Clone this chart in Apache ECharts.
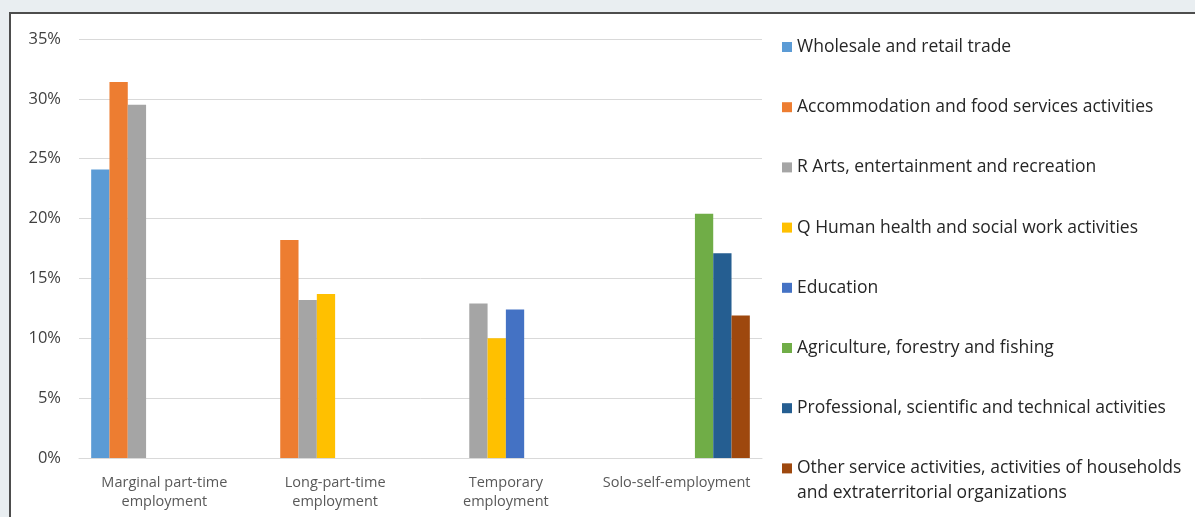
<!DOCTYPE html>
<html>
<head>
<meta charset="utf-8">
<script src="https://cdn.jsdelivr.net/npm/echarts@6/dist/echarts.min.js"></script>
<style>
html,body{margin:0;padding:0;background:#e9eef1;}
#c{width:1195px;height:517px;}
</style>
</head>
<body>
<div id="c"></div>
<script>
const categories = ['Marginal part-time\nemployment', 'Long-part-time\nemployment', 'Temporary\nemployment', 'Solo-self-employment'];
const seriesNames = [
  'Wholesale and retail trade',
  'Accommodation and food services activities',
  'R Arts, entertainment and recreation',
  'Q Human health and social work activities',
  'Education',
  'Agriculture, forestry and fishing',
  'Professional, scientific and technical activities',
  'Other service activities, activities of households and extraterritorial organizations'
];
const wholesale     = [24.1, null, null, null];
const accommodation = [31.4, 18.2, null, null];
const arts          = [29.5, 13.2, 12.9, null];
const health        = [null, 13.7, 10.0, null];
const education     = [null, null, 12.4, null];
const agriculture   = [null, null, null, 20.4];
const professional  = [null, null, null, 17.1];
const otherServices = [null, null, null, 11.9];
const yTicks = [0, 5, 10, 15, 20, 25, 30, 35];
const colors = ['#5B9BD5', '#ED7D31', '#A5A5A5', '#FFC000', '#4472C4', '#70AD47', '#255E91', '#9E480E'];

const seriesData = [wholesale, accommodation, arts, health, education, agriculture, professional, otherServices];
const font = '"Open Sans", "Noto Sans", sans-serif';

const chart = echarts.init(document.getElementById('c'), null, {renderer: 'canvas'});
chart.setOption({
  backgroundColor: '#e9eef1',
  animation: false,
  color: colors,
  graphic: [
    {type: 'rect', z: -10, shape: {x: 10, y: 13, width: 1200, height: 520}, style: {fill: '#ffffff', stroke: '#4d4d4d', lineWidth: 2}},
    {type: 'text', left: 797, top: 484, style: {text: 'and extraterritorial organizations', font: '17.5px ' + font, fill: '#262626'}}
  ],
  grid: {left: 79, right: 433, top: 39, bottom: 59, containLabel: false},
  legend: {
    orient: 'vertical',
    left: 782,
    top: 37,
    padding: 0,
    itemWidth: 10,
    itemHeight: 10,
    itemGap: 40.2,
    icon: 'rect',
    selectedMode: false,
    textStyle: {fontFamily: font, fontSize: 17.5, color: '#262626', lineHeight: 20},
    formatter: function (name) {
      if (name === seriesNames[7]) return 'Other service activities, activities of households';
      return name;
    },
    data: seriesNames
  },
  xAxis: {
    type: 'category',
    data: categories,
    axisLine: {lineStyle: {color: '#d9d9d9', width: 1}},
    axisTick: {show: false},
    axisLabel: {interval: 0, color: '#595959', fontFamily: font, fontSize: 14.5, lineHeight: 19, margin: 15}
  },
  yAxis: {
    type: 'value',
    min: 0,
    max: 35,
    interval: 5,
    axisLine: {show: false},
    axisTick: {show: false},
    splitLine: {lineStyle: {color: '#d9d9d9', width: 1}},
    axisLabel: {color: '#404040', fontFamily: font, fontSize: 16.5, margin: 18, formatter: v => yTicks.includes(v) ? v + '%' : ''}
  },
  series: seriesNames.map((n, i) => ({
    name: n,
    type: 'bar',
    data: seriesData[i],
    barWidth: 18.3,
    barGap: '0%',
    itemStyle: {color: colors[i]}
  }))
});
</script>
</body>
</html>
